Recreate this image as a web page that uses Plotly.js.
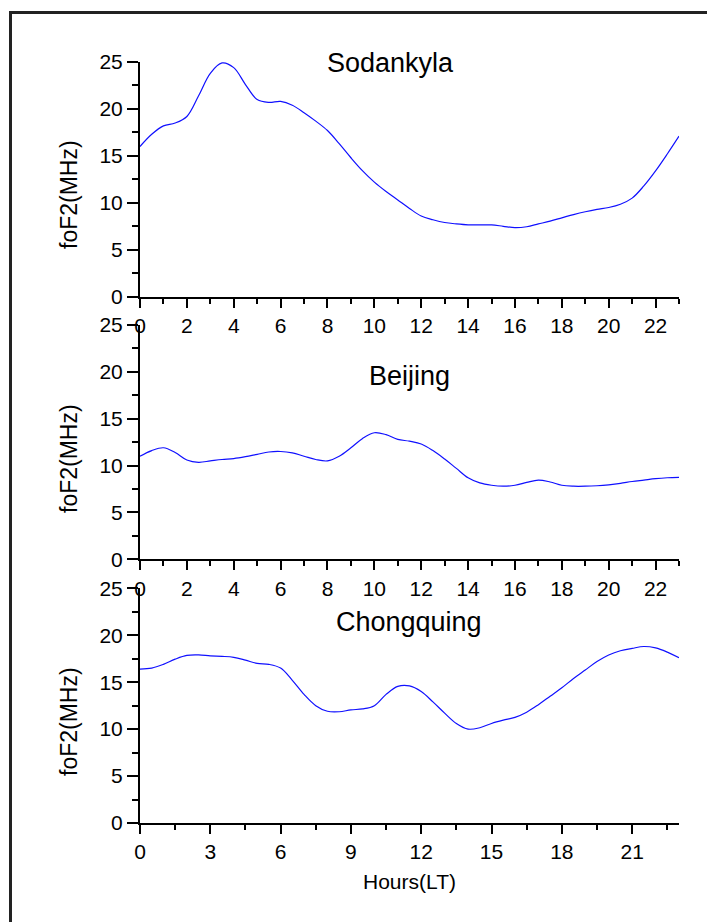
<!DOCTYPE html>
<html><head><meta charset="utf-8">
<script src="https://cdn.plot.ly/plotly-3.0.1.min.js"></script>
<style>
html,body{margin:0;padding:0;background:#fff;overflow:hidden}
#topline{position:absolute;left:9px;top:11px;width:698px;height:3px;background:#222;pointer-events:none}
#leftline{position:absolute;left:9px;top:11px;width:3px;height:911px;background:#222;pointer-events:none}
</style>
</head><body><div id="chart" style="width:707px;height:922px"></div><div id="topline"></div><div id="leftline"></div>
<script>
// Local time (hours)
const hours = [0,0.5,1,1.5,2,2.5,3,3.5,4,4.5,5,5.5,6,6.5,7,7.5,8,8.5,9,9.5,10,10.5,11,11.5,12,12.5,13,13.5,14,14.5,15,15.5,16,16.5,17,17.5,18,18.5,19,19.5,20,20.5,21,21.5,22,22.5,23];
// foF2 (MHz) per station
const sodankyla = [16.0,17.3,18.2,18.5,19.2,21.4,23.8,24.9,24.4,22.6,21.0,20.7,20.8,20.4,19.6,18.7,17.7,16.3,14.8,13.4,12.2,11.2,10.3,9.4,8.6,8.2,7.9,7.75,7.65,7.65,7.65,7.5,7.35,7.45,7.75,8.05,8.4,8.75,9.05,9.3,9.5,9.85,10.5,11.8,13.4,15.2,17.1];
const beijing = [11.0,11.6,11.9,11.4,10.6,10.35,10.5,10.65,10.75,10.95,11.2,11.45,11.5,11.35,11.0,10.65,10.5,11.0,11.9,12.9,13.5,13.3,12.8,12.6,12.3,11.6,10.7,9.7,8.7,8.15,7.9,7.8,7.9,8.2,8.45,8.25,7.9,7.8,7.8,7.85,7.95,8.1,8.3,8.45,8.6,8.7,8.75];
const chongquing = [16.4,16.5,16.9,17.45,17.85,17.9,17.8,17.75,17.65,17.35,17.0,16.9,16.5,15.2,13.7,12.5,11.9,11.85,12.05,12.15,12.5,13.7,14.55,14.6,14.0,12.9,11.7,10.6,10.0,10.15,10.6,10.95,11.25,11.8,12.6,13.5,14.4,15.4,16.3,17.2,17.9,18.35,18.6,18.8,18.65,18.2,17.6];
const stationNames = ['Sodankyla','Beijing','Chongquing'];
const yTitle = 'foF2(MHz)';
const xTitle = 'Hours(LT)';

const FONT = 'Arial, "Liberation Sans", sans-serif';
const series = [sodankyla, beijing, chongquing];
const axIds = ['', '2', '3'];

const traces = series.map((vals, i) => ({
  x: hours, y: vals, type: 'scatter', mode: 'lines',
  line: {color: '#1010ff', width: 1.2, shape: 'spline', smoothing: 1},
  xaxis: 'x' + axIds[i], yaxis: 'y' + axIds[i], hoverinfo: 'skip', showlegend: false
}));

const L = 140, R = 28, T = 62, B = 99, W = 707, H = 922;
const pw = W - L - R, ph = H - T - B;
const px = v => (v - L) / pw;
const py = v => (H - B - v) / ph;

const yDomains = [[py(296.7), 1], [py(559.3), py(325)], [0, py(588.3)]];

function yax(dom){
  return {domain: dom, range: [0, 25], tick0: 0, dtick: 5, showline: true, linecolor: '#000', linewidth: 2,
    ticks: 'outside', ticklen: 11, tickwidth: 2, tickcolor: '#000',
    minor: {dtick: 2.5, tick0: 0, ticks: 'outside', ticklen: 6, tickwidth: 2, tickcolor: '#000'},
    showgrid: false, zeroline: false, tickfont: {family: FONT, size: 21, color: '#000'}, fixedrange: true};
}
function xax(anchor, major, minor){
  return {domain: [0, 1], anchor: anchor, range: [0, 23], tick0: 0, dtick: major, showline: true, linecolor: '#000', linewidth: 2,
    ticks: 'outside', ticklen: 9, tickwidth: 2, tickcolor: '#000',
    minor: {dtick: minor, tick0: 0, ticks: 'outside', ticklen: 5, tickwidth: 2, tickcolor: '#000'},
    showgrid: false, zeroline: false, tickfont: {family: FONT, size: 21, color: '#000'}, fixedrange: true};
}

const titlePos = [[10.71, 24.9], [11.48, 19.6], [11.46, 21.4]];
const yTitleCenters = [195, 459, 722];

const annotations = [];
stationNames.forEach((name, i) => {
  annotations.push({text: name, xref: 'x' + axIds[i], yref: 'y' + axIds[i], x: titlePos[i][0], y: titlePos[i][1],
    showarrow: false, xanchor: 'center', yanchor: 'middle', font: {family: FONT, size: 27, color: '#000'}});
  annotations.push({text: yTitle, xref: 'paper', yref: 'paper', x: px(69), y: py(yTitleCenters[i]), textangle: -90,
    showarrow: false, xanchor: 'center', yanchor: 'middle', font: {family: FONT, size: 23, color: '#000'}});
});
annotations.push({text: xTitle, xref: 'paper', yref: 'paper', x: px(409), y: py(881.7), showarrow: false,
  xanchor: 'center', yanchor: 'middle', font: {family: FONT, size: 21, color: '#000'}});

const layout = {
  width: W, height: H, margin: {l: L, r: R, t: T, b: B, pad: 0},
  paper_bgcolor: '#fff', plot_bgcolor: 'rgba(0,0,0,0)', showlegend: false,
  font: {family: FONT, color: '#000'},
  xaxis: xax('y', 2, 1), yaxis: yax(yDomains[0]),
  xaxis2: xax('y2', 2, 1), yaxis2: yax(yDomains[1]),
  xaxis3: xax('y3', 3, 1.5), yaxis3: yax(yDomains[2]),
  annotations: annotations
};

Plotly.newPlot('chart', traces, layout, {staticPlot: true, displayModeBar: false});
</script>
</body></html>
